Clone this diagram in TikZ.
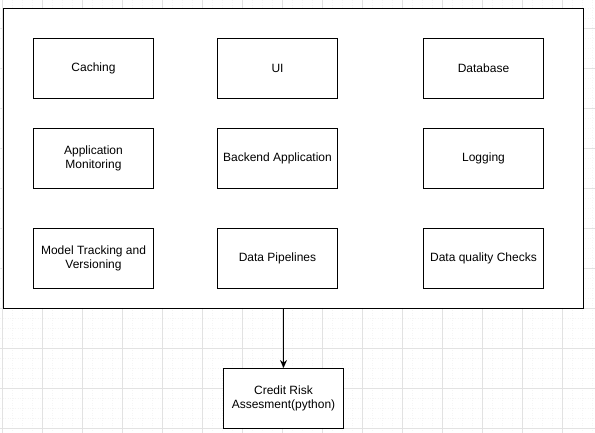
\documentclass[tikz,border=0pt]{standalone}
\usepackage{fontspec}
\setmainfont{Liberation Sans}
\usetikzlibrary{arrows.meta}
\begin{document}
\begin{tikzpicture}[x=1pt,y=-1pt,
  comp/.style={draw=black,line width=1pt,fill=white,minimum width=120pt,minimum height=60pt,
    inner sep=0pt,align=center,font=\fontsize{12}{14}\selectfont,anchor=north west},
  frame/.style={draw=black,line width=1pt,fill=white},
  majorgrid/.style={draw={rgb,255:red,226;green,226;blue,226},line width=0.6pt},
  minorgrid/.style={draw={rgb,255:red,244;green,244;blue,244},line width=0.5pt,dotted},
  conn/.style={draw=black,line width=1pt,-{Stealth[length=8pt,width=7pt]}}]
\useasboundingbox (0,0) rectangle (595,433);
\fill[white] (0,0) rectangle (595,433);
% minor grid
\foreach \x in {2.7,12.7,...,595} {\draw[minorgrid] (\x,0) -- (\x,433);}
\foreach \y in {-2,8,...,433} {\draw[minorgrid] (0,\y) -- (595,\y);}
% major grid
\foreach \x in {2.7,42.7,...,595} {\draw[majorgrid] (\x,0) -- (\x,433);}
\foreach \y in {28,68,...,433} {\draw[majorgrid] (0,\y) -- (595,\y);}
% container
\node[frame,minimum width=580pt,minimum height=300pt,inner sep=0pt,anchor=north west] (sys) at (3,8) {};
% components
\node[comp] (cache) at (33,38) {Caching};
\node[comp] (ui) at (217,38) {UI};
\node[comp] (db) at (423,38) {Database};
\node[comp] (mon) at (33,128) {Application\\Monitoring};
\node[comp] (backend) at (217,128) {Backend Application};
\node[comp] (log) at (423,128) {Logging};
\node[comp] (track) at (33,228) {Model Tracking and\\Versioning};
\node[comp] (pipe) at (217,228) {Data Pipelines};
\node[comp] (dq) at (423,228) {Data quality Checks};
\node[comp] (credit) at (223,368) {Credit Risk\\Assesment(python)};
\draw[conn] (sys.south -| credit.north) -- (credit.north);
\end{tikzpicture}
\end{document}
